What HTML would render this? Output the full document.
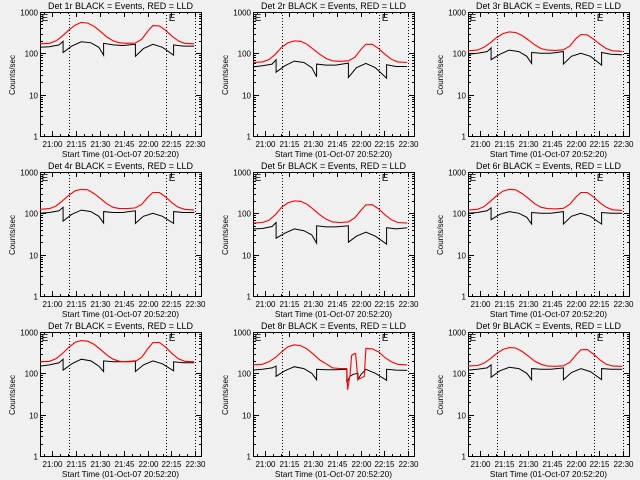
<!DOCTYPE html>
<html><head><meta charset="utf-8"><style>
html,body{margin:0;padding:0;background:#f0f0f0;}
svg{display:block;font-family:"Liberation Sans",sans-serif;}
</style></head><body>
<svg id="chart" width="640" height="480" viewBox="0 0 640 480" xmlns="http://www.w3.org/2000/svg">
<rect width="640" height="480" fill="#f0f0f0"/>
</svg>
<script>
const panelTitles = ["Det 1r","Det 2r","Det 3r","Det 4r","Det 5r","Det 6r","Det 7r","Det 8r","Det 9r"];
const xTickLabels = ["21:00","21:15","21:30","21:45","22:00","22:15","22:30"];
const xTickMinutes = [7.67,22.67,37.67,52.67,67.67,82.67,97.67];
const yTickValues = [1,10,100,1000];
const yTickLabels = ["1","10","100","1000"];
const dottedMinutes = [18.2,79,97.5];
const eMarkerMinutes = [1,81];
const redTimes = [0,6,10,14,18,22,26,30,34,38,42,46,50,55,60,64,68,71,75,79,83,87,91,97];
const blackTimes = [0,6,12,14.5,14.5,20,26,32,37,40,40,46,52,60,60,65,71,77,84,84,90,97];
const red8Times = [0,6,10,14,18,22,26,30,34,38,42,46,50,55,59,59.5,61,62,62.5,64,64.5,66,67,67.5,70,71,75,79,83,87,91,97];
const black8Times = [0,6,12,14.5,14.5,20,26,32,37,40,40,46,52,59,59,61,63,66,66,68,71,77,84,84,90,97];
const red1 = [170,175,200,260,360,480,560,540,450,340,250,200,180,175,178,220,350,470,460,360,260,200,175,170];
const red2 = [60,62,70,95,140,180,200,195,165,125,95,75,66,64,66,80,125,165,165,130,95,72,62,60];
const red3 = [115,120,140,180,240,300,330,320,270,210,160,130,120,118,122,150,230,285,280,220,165,130,115,112];
const red4 = [125,130,150,200,270,350,380,370,300,230,170,140,130,130,135,165,250,320,320,250,180,140,125,120];
const red5 = [58,60,68,92,140,180,200,195,165,125,92,72,62,60,62,78,120,160,162,128,92,70,60,58];
const red6 = [120,125,145,195,265,345,380,370,300,230,170,140,130,128,132,165,250,320,320,250,180,140,122,118];
const red7 = [190,195,225,300,420,560,620,600,500,380,280,220,195,190,195,245,400,550,560,430,300,225,195,190];
const red8 = [160,165,190,240,330,440,490,470,390,290,210,170,135,130,130,40,90,270,280,300,300,70,75,75,85,400,390,330,240,190,165,160];
const red9 = [150,155,175,225,300,380,420,410,340,260,195,165,150,148,152,185,280,370,375,290,210,165,150,148];
const black1 = [140,145,160,195,105,150,190,180,140,90,175,160,155,165,85,130,165,140,90,160,150,150];
const black2 = [47,50,55,70,35,50,65,60,45,27,55,52,52,58,26,45,57,45,25,53,48,48];
const black3 = [95,100,110,135,70,95,120,110,85,57,105,100,100,110,55,85,100,85,52,105,95,92];
const black4 = [100,105,115,140,65,95,120,110,85,58,110,105,105,115,57,85,100,85,57,110,105,105];
const black5 = [42,43,48,60,25,33,42,38,30,19,50,47,47,50,20,28,35,28,18,45,42,45];
const black6 = [100,105,115,135,70,95,110,100,80,55,105,100,100,110,55,85,100,85,55,105,100,100];
const black7 = [150,160,180,220,120,170,220,200,150,110,200,190,190,200,110,160,200,170,115,190,180,180];
const black8 = [120,125,135,150,85,115,145,130,100,70,125,122,122,125,60,85,95,100,70,95,125,100,68,125,120,118];
const black9 = [120,125,135,160,80,115,140,130,100,70,130,125,125,135,70,105,130,110,70,130,125,125];

const redSeries = [red1,red2,red3,red4,red5,red6,red7,red8,red9];
const blackSeries = [black1,black2,black3,black4,black5,black6,black7,black8,black9];

const NS = "http://www.w3.org/2000/svg";
const svg = document.getElementById("chart");
const colX = [40,253,468], rowY = [12,172,332];
const W = 161, H = 124, PXMIN = 1.59;

function mk(tag, attrs, parent){
  const e = document.createElementNS(NS, tag);
  for (const k in attrs) e.setAttribute(k, attrs[k]);
  (parent||svg).appendChild(e);
  return e;
}

for (let p = 0; p < 9; p++) {
  const L = colX[p%3], T = rowY[Math.floor(p/3)];
  const xs = t => L + t*PXMIN;
  const ys = v => T + (3 - Math.log10(v)) * H/3;
  const g = mk("g", {});
  
  

  const box = mk("rect", {x:L+0.5, y:T+0.5, width:W, height:H, fill:"none", stroke:"#000", "stroke-width":1}, g);
  
  

  const title = mk("text", {x:L+W/2, y:T-3, "text-anchor":"middle", "font-size":"9", fill:"#000"}, g);
  title.textContent = panelTitles[p] + " BLACK = Events, RED = LLD";
  
  

  yTickValues.forEach((v,i) => {
    const y = Math.round(ys(v))+0.5;
    mk("line",{x1:L,x2:L+6,y1:y,y2:y,stroke:"#000"},g);
    mk("line",{x1:L+W-5,x2:L+W,y1:y,y2:y,stroke:"#000"},g);
    const lb = mk("text",{x:L-2,y:y+3,"text-anchor":"end","font-size":"8",fill:"#000"},g);
    lb.textContent = yTickLabels[i];
    
    
    if (i < yTickValues.length-1) {
      for (let m = 2; m <= 9; m++) {
        const ym = Math.round(ys(v*m))+0.5;
        mk("line",{x1:L,x2:L+3,y1:ym,y2:ym,stroke:"#000"},g);
        mk("line",{x1:L+W-2,x2:L+W,y1:ym,y2:ym,stroke:"#000"},g);
      }
    }
  });
  xTickMinutes.forEach((t,i) => {
    const x = Math.round(xs(t))+0.5;
    mk("line",{x1:x,x2:x,y1:T+H,y2:T+H-5,stroke:"#000"},g);
    mk("line",{x1:x,x2:x,y1:T,y2:T+5,stroke:"#000"},g);
    const lb = mk("text",{x:x,y:T+H+11,"text-anchor":"middle","font-size":"8",fill:"#000"},g);
    lb.textContent = xTickLabels[i];
    
    
  });
  for (let t = 2.67; t < 101; t += 5) {
    const x = Math.round(xs(t))+0.5;
    mk("line",{x1:x,x2:x,y1:T+H,y2:T+H-2,stroke:"#000"},g);
    mk("line",{x1:x,x2:x,y1:T,y2:T+2,stroke:"#000"},g);
  }
  const xt = mk("text",{x:L+W/2,y:T+H+21,"text-anchor":"middle","font-size":"8.3",fill:"#000"},g);
  xt.textContent = "Start Time (01-Oct-07 20:52:20)";
  
  
  const yt = mk("text",{x:0,y:0,"text-anchor":"middle","font-size":"8",fill:"#000",transform:`translate(${L-25},${T+63}) rotate(-90)`},g);
  yt.textContent = "Counts/sec";
  
  

  dottedMinutes.forEach(t => {
    const x = Math.round(xs(t))+0.5;
    const dl = mk("line",{x1:x,x2:x,y1:T,y2:T+H,stroke:"#000","stroke-dasharray":"1,2"},g);
    
    
  });
  eMarkerMinutes.forEach(t => {
    const e = mk("text",{x:xs(t),y:T+9,"font-size":"10",fill:"#000"},g);
    e.textContent = "E";
    
    
  });

  const rt = p === 7 ? red8Times : redTimes;
  const bt = p === 7 ? black8Times : blackTimes;
  const rPts = redSeries[p].map((v,i) => xs(rt[i]).toFixed(1)+","+ys(v).toFixed(1)).join(" ");
  const bPts = blackSeries[p].map((v,i) => xs(bt[i]).toFixed(1)+","+ys(v).toFixed(1)).join(" ");
  const bl = mk("polyline",{points:bPts,fill:"none",stroke:"#000","stroke-width":1},g);
  
  
  const rl = mk("polyline",{points:rPts,fill:"none",stroke:"#ff0000","stroke-width":1.1},g);
  
  
}
</script>
</body></html>
